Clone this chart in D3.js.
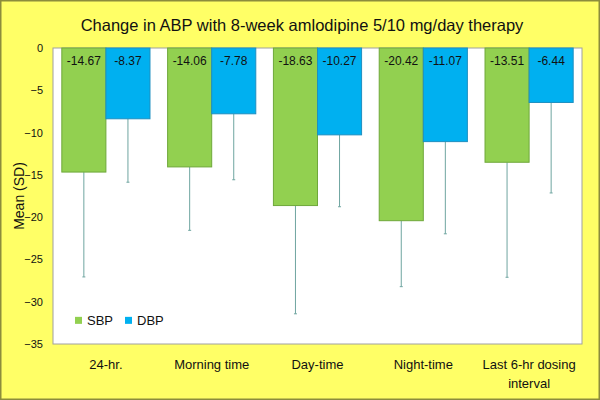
<!DOCTYPE html>
<html>
<head>
<meta charset="utf-8">
<script src="https://cdn.jsdelivr.net/npm/d3@7"></script>
<style>
  body { margin: 0; background: #fff; }
  svg { display: block; font-family: "Liberation Sans", Arial, sans-serif; }
</style>
</head>
<body>
<div id="chart"></div>
<script>
const categories = ['24-hr.', 'Morning time', 'Day-time', 'Night-time', 'Last 6-hr dosing interval'];
const seriesNames = ['SBP', 'DBP'];
const sbpMeans = [-14.67, -14.06, -18.63, -20.42, -13.51];
const dbpMeans = [-8.37, -7.78, -10.27, -11.07, -6.44];
const sbpSD = [12.4, 7.5, 12.8, 7.8, 13.6];
const dbpSD = [7.5, 7.8, 8.5, 10.9, 10.7];
const yTicks = [0, -5, -10, -15, -20, -25, -30, -35];

const width = 600;
const height = 400;
const margin = { top: 48, right: 18, bottom: 56, left: 53 };
const colors = { SBP: '#92D050', DBP: '#00B0F0' };
const strokes = { SBP: '#6FA83A', DBP: '#1E8FC0' };

const svg = d3.select('#chart').append('svg').attr('width', width).attr('height', height);

svg.append('rect')
  .attr('x', 0.75).attr('y', 0.75)
  .attr('width', width - 1.5).attr('height', height - 1.5)
  .attr('fill', '#FFFF66')
  .attr('stroke', '#8C8C3C')
  .attr('stroke-width', 1.5);

svg.append('text')
  .attr('x', 302).attr('y', 31)
  .attr('text-anchor', 'middle')
  .attr('font-size', 16.5)
  .attr('fill', '#111')
  .text('Change in ABP with 8-week amlodipine 5/10 mg/day therapy');

const innerW = width - margin.left - margin.right;
const innerH = height - margin.top - margin.bottom;

const g = svg.append('g').attr('transform', `translate(${margin.left},${margin.top})`);

g.append('rect')
  .attr('width', innerW).attr('height', innerH)
  .attr('fill', '#fff')
  .attr('stroke', '#A0A0A0')
  .attr('stroke-width', 1);

const x0 = d3.scaleBand().domain(categories).range([0, innerW]);
const x1 = d3.scaleBand().domain(seriesNames).range([0, x0.bandwidth()]).paddingOuter(0.2);
const y = d3.scaleLinear().domain([0, -35]).range([0, innerH]);

// y axis labels
const yAxis = d3.axisLeft(y).tickValues(yTicks).tickSize(0).tickPadding(10);
g.append('g').call(yAxis)
  .call(s => s.select('.domain').remove())
  .selectAll('text')
  .attr('font-size', 11)
  .attr('fill', '#111')
  .attr('font-family', '"Liberation Sans", Arial, sans-serif');

svg.append('text')
  .attr('transform', `translate(24,${margin.top + innerH / 2}) rotate(-90)`)
  .attr('text-anchor', 'middle')
  .attr('font-size', 14)
  .attr('fill', '#111')
  .text('Mean (SD)');

const rows = categories.map((c, i) => ({
  category: c,
  values: [
    { key: 'SBP', mean: sbpMeans[i], sd: sbpSD[i] },
    { key: 'DBP', mean: dbpMeans[i], sd: dbpSD[i] },
  ],
}));

const groups = g.selectAll('.group')
  .data(rows)
  .enter()
  .append('g')
  .attr('class', 'group')
  .attr('transform', d => `translate(${x0(d.category)},0)`);

const bar = groups.selectAll('.bar')
  .data(d => d.values)
  .enter()
  .append('g')
  .attr('class', 'bar');

// error bars (drawn below the bars)
bar.append('line')
  .attr('x1', d => x1(d.key) + x1.bandwidth() / 2)
  .attr('x2', d => x1(d.key) + x1.bandwidth() / 2)
  .attr('y1', d => y(d.mean))
  .attr('y2', d => y(d.mean - d.sd))
  .attr('stroke', '#6FA5A0')
  .attr('stroke-width', 1);

bar.append('line')
  .attr('x1', d => x1(d.key) + x1.bandwidth() / 2 - 1.5)
  .attr('x2', d => x1(d.key) + x1.bandwidth() / 2 + 1.5)
  .attr('y1', d => y(d.mean - d.sd))
  .attr('y2', d => y(d.mean - d.sd))
  .attr('stroke', '#6FA5A0')
  .attr('stroke-width', 1);

bar.append('rect')
  .attr('x', d => x1(d.key))
  .attr('y', 0)
  .attr('width', x1.bandwidth())
  .attr('height', d => y(d.mean))
  .attr('fill', d => colors[d.key])
  .attr('stroke', d => strokes[d.key])
  .attr('stroke-width', 1);

bar.append('text')
  .attr('x', d => x1(d.key) + x1.bandwidth() / 2)
  .attr('y', 16.5)
  .attr('text-anchor', 'middle')
  .attr('font-size', 12)
  .attr('fill', '#111')
  .text(d => d.mean.toFixed(2));

// x labels
const xLabels = svg.append('g');
const labelLines = {
  'Last 6-hr dosing interval': ['Last 6-hr dosing', 'interval'],
};
categories.forEach(c => {
  const lines = labelLines[c] || [c];
  const t = xLabels.append('text')
    .attr('x', margin.left + x0(c) + x0.bandwidth() / 2)
    .attr('y', 369)
    .attr('text-anchor', 'middle')
    .attr('font-size', 13)
    .attr('fill', '#111');
  lines.forEach((l, i) => {
    t.append('tspan')
      .attr('x', margin.left + x0(c) + x0.bandwidth() / 2)
      .attr('dy', i === 0 ? 0 : 19)
      .text(l);
  });
});

// legend
const legend = g.append('g').attr('transform', `translate(22,${y(-32.5)})`);
const legendItems = legend.selectAll('.item')
  .data(seriesNames)
  .enter()
  .append('g')
  .attr('class', 'item')
  .attr('transform', (d, i) => `translate(${i * 50},0)`);

legendItems.append('rect')
  .attr('x', 0).attr('y', -6)
  .attr('width', 7).attr('height', 7)
  .attr('fill', d => colors[d]);

legendItems.append('text')
  .attr('x', 12).attr('y', 2)
  .attr('font-size', 13)
  .attr('fill', '#111')
  .text(d => d);
</script>
</body>
</html>
